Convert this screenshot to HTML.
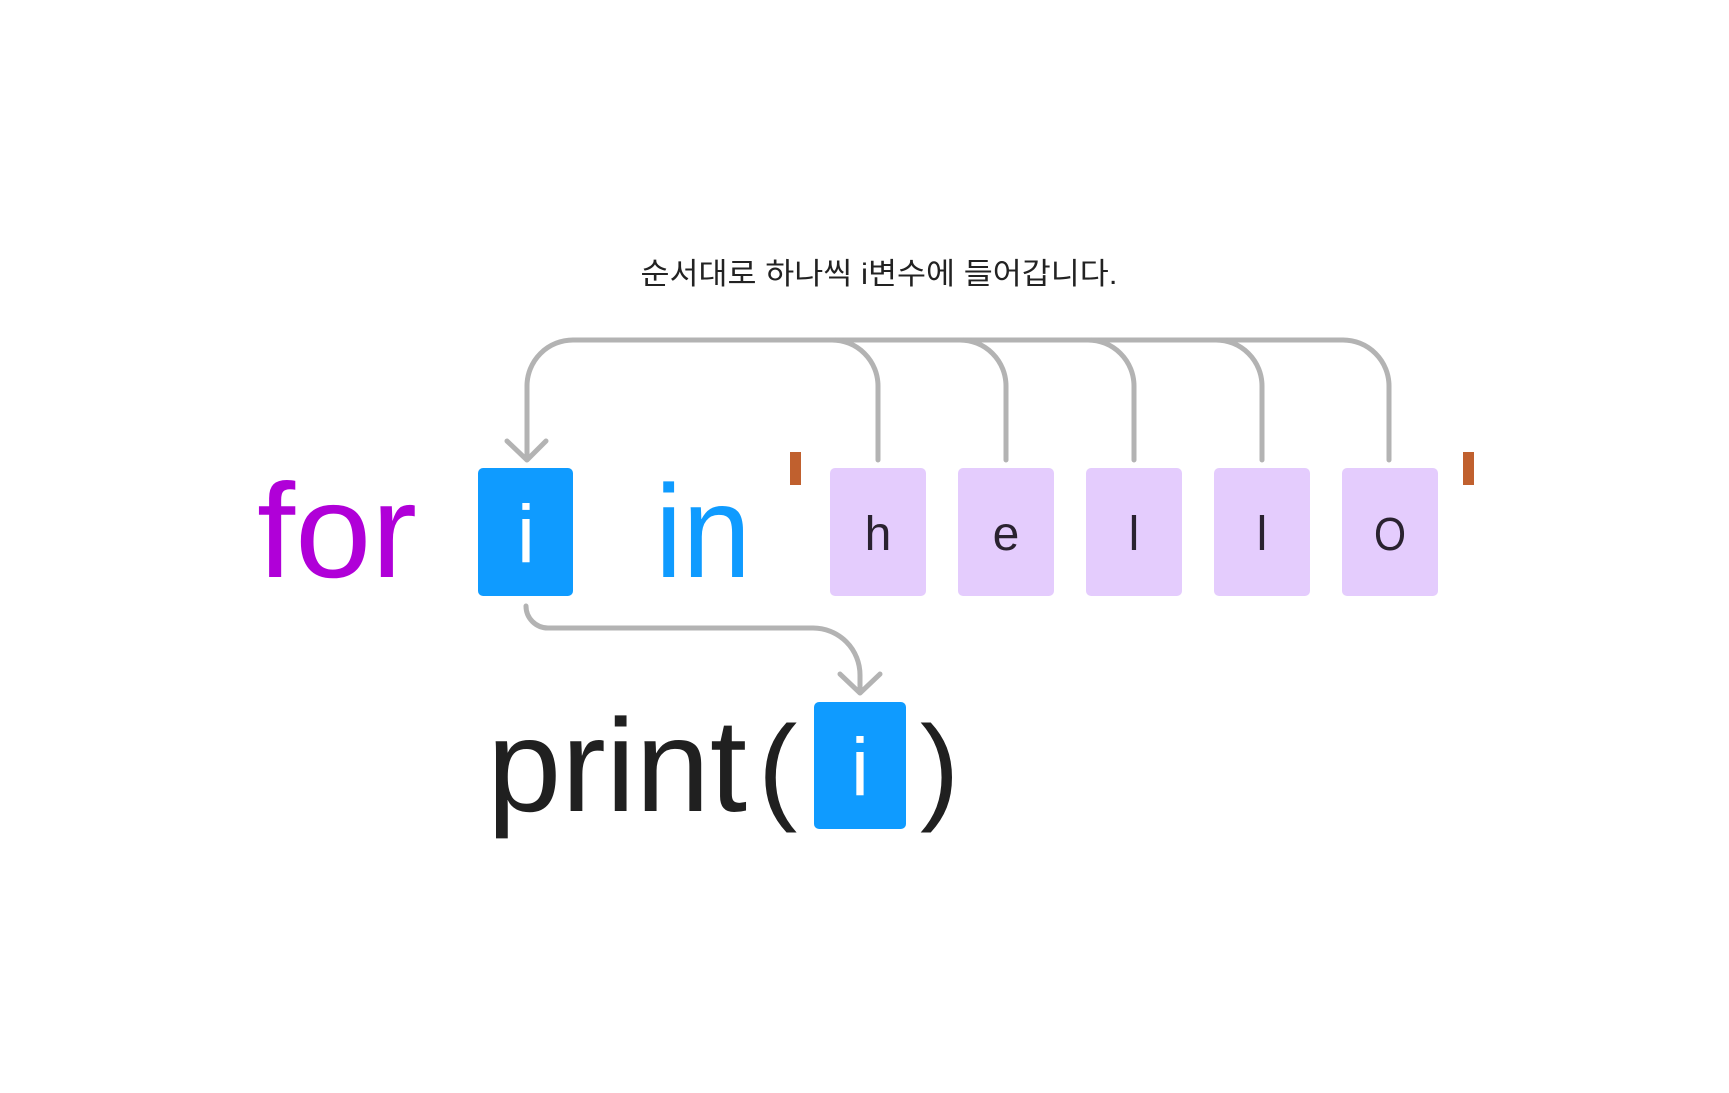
<!DOCTYPE html>
<html><head><meta charset="utf-8"><style>
html,body{margin:0;padding:0;background:#fff;}
svg{display:block;}
</style></head><body>
<svg width="1729" height="1093" viewBox="0 0 1729 1093" xmlns="http://www.w3.org/2000/svg">
<rect width="1729" height="1093" fill="#fff"/>
<text x="879" y="284" font-family="Liberation Sans, Noto Sans CJK KR, sans-serif" font-size="30" fill="#222" text-anchor="middle" textLength="477" lengthAdjust="spacingAndGlyphs">순서대로 하나씩 i변수에 들어갑니다.</text>

<g fill="none" stroke="#b3b3b3" stroke-width="5" stroke-linecap="round" stroke-linejoin="round">
  <path d="M527 459 L527 386 A46 46 0 0 1 573 340 L1343 340 A46 46 0 0 1 1389 386 L1389 460"/>
  <path d="M832 340 A46 46 0 0 1 878 386 L878 460"/>
  <path d="M960 340 A46 46 0 0 1 1006 386 L1006 460"/>
  <path d="M1088 340 A46 46 0 0 1 1134 386 L1134 460"/>
  <path d="M1216 340 A46 46 0 0 1 1262 386 L1262 460"/>
  <path d="M507 441 L527 460 L546 441"/>
  <path d="M526 606 A22 22 0 0 0 548 628 L813 628 A47 47 0 0 1 860 675 L860 692"/>
  <path d="M840 674 L860 693 L880 674"/>
</g>

<text x="257" y="577" font-family="Liberation Sans, sans-serif" font-size="134" fill="#b000d8" textLength="160" lengthAdjust="spacingAndGlyphs">for</text>
<rect x="478" y="468" width="95" height="128" rx="5" fill="#0f9bff"/>
<text x="526" y="562" font-family="Liberation Sans, sans-serif" font-size="82" fill="#fff" text-anchor="middle">i</text>
<text x="655" y="577" font-family="Liberation Sans, sans-serif" font-size="132" fill="#0f9bff" textLength="96" lengthAdjust="spacingAndGlyphs">in</text>

<rect x="790" y="452" width="11" height="33" fill="#c0602e"/>
<rect x="1463" y="452" width="11" height="33" fill="#c0602e"/>

<g fill="#e4ccfd">
  <rect x="830" y="468" width="96" height="128" rx="5"/>
  <rect x="958" y="468" width="96" height="128" rx="5"/>
  <rect x="1086" y="468" width="96" height="128" rx="5"/>
  <rect x="1214" y="468" width="96" height="128" rx="5"/>
  <rect x="1342" y="468" width="96" height="128" rx="5"/>
</g>
<g font-family="Liberation Sans, sans-serif" font-size="48" fill="#2a2230" text-anchor="middle">
  <text x="878" y="550">h</text>
  <text x="1006" y="550">e</text>
  <text x="1134" y="550">l</text>
  <text x="1262" y="550">l</text>
  <text x="1390" y="550" font-size="46" textLength="32" lengthAdjust="spacingAndGlyphs">O</text>
</g>

<text x="487" y="811" font-family="Liberation Sans, sans-serif" font-size="132" fill="#202020" textLength="260" lengthAdjust="spacingAndGlyphs">print</text>
<text x="758" y="808" font-family="Liberation Sans, sans-serif" font-size="118" fill="#202020">(</text>
<rect x="814" y="702" width="92" height="127" rx="5" fill="#0f9bff"/>
<text x="860" y="795" font-family="Liberation Sans, sans-serif" font-size="82" fill="#fff" text-anchor="middle">i</text>
<text x="920" y="808" font-family="Liberation Sans, sans-serif" font-size="118" fill="#202020">)</text>
</svg>
</body></html>
